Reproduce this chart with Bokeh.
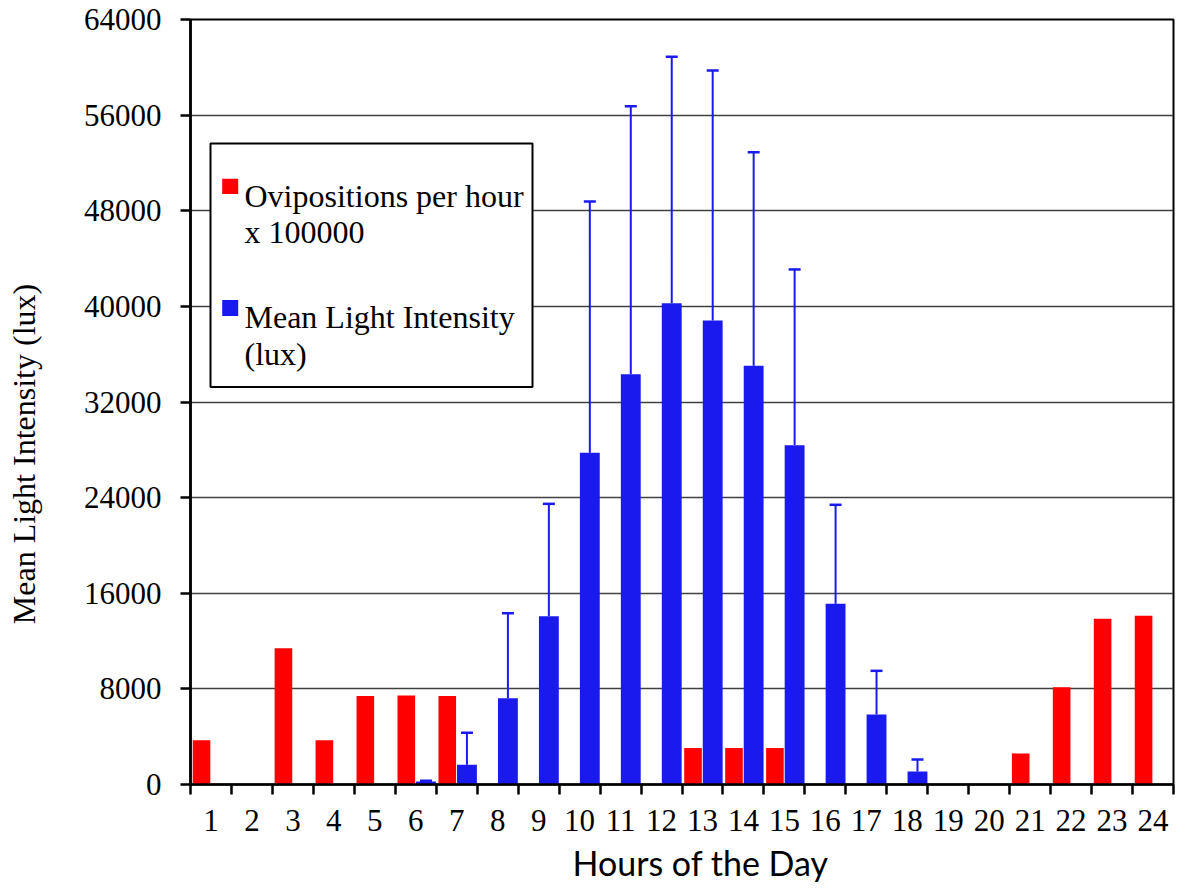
from bokeh.plotting import figure
from bokeh.models import (Range1d, FixedTicker, Whisker, TeeHead, ColumnDataSource,
                          BoxAnnotation, Label, Title)
from bokeh.transform import dodge
from bokeh.embed import file_html
from bokeh.resources import INLINE

# ---------------- data ----------------
hours = list(range(1, 25))
ovipositions_x1e5 = [3700, 0, 11400, 3700, 7400, 7450, 7400, 0, 0, 0, 0, 0,
                     3050, 3050, 3050, 0, 0, 0, 0, 0, 2600, 8140, 13860, 14110]
light_mean = [0, 0, 0, 0, 0, 250, 1650, 7220, 14080, 27750, 34330, 40270,
              38820, 35030, 28390, 15120, 5860, 1090, 0, 0, 0, 0, 0, 0]
light_sd = [0, 0, 0, 0, 0, 60, 2680, 7110, 9400, 21030, 22410, 20610,
            20910, 17860, 14700, 8280, 3650, 1000, 0, 0, 0, 0, 0, 0]
y_ticks = [0, 8000, 16000, 24000, 32000, 40000, 48000, 56000, 64000]
legend_labels = ["Ovipositions per hour", "x 100000", "Mean Light Intensity", "(lux)"]
y_title = "Mean Light Intensity (lux)"
x_title = "Hours of the Day"

RED = "#FF0000"
BLUE = "#1A1AEE"
SERIF = "Liberation Serif"

src = ColumnDataSource(dict(hour=hours, ovi=ovipositions_x1e5, light=light_mean))
idx = [i for i, v in enumerate(light_mean) if v > 0]
err_src = ColumnDataSource(dict(
    hour=[hours[i] for i in idx],
    lower=[light_mean[i] for i in idx],
    upper=[light_mean[i] + light_sd[i] for i in idx],
))

p = figure(width=1186, height=892, output_backend="svg", toolbar_location=None,
           x_range=Range1d(0.5, 24.5), y_range=Range1d(0, 64000),
           min_border_left=190, min_border_right=13, min_border_top=19, min_border_bottom=108)
p.background_fill_color = "white"
p.border_fill_color = "white"
p.outline_line_color = "black"
p.outline_line_width = 2

p.vbar(x=dodge("hour", -0.231, range=p.x_range), top="ovi", width=0.43, source=src,
       fill_color=RED, line_color=None)
p.vbar(x=dodge("hour", 0.2495, range=p.x_range), top="light", width=0.485, source=src,
       fill_color=BLUE, line_color=None)

wh = Whisker(source=err_src, base=dodge("hour", 0.2495, range=p.x_range),
             lower="lower", upper="upper", dimension="height",
             line_color=BLUE, line_width=2,
             lower_head=None,
             upper_head=TeeHead(size=12, line_color=BLUE, line_width=2.5))
p.add_layout(wh)

# axes
p.xaxis.ticker = FixedTicker(ticks=hours, minor_ticks=[h - 0.5 for h in hours] + [hours[-1] + 0.5])
p.xaxis.major_tick_out = 0
p.xaxis.major_tick_in = 0
p.xaxis.minor_tick_out = 10
p.xaxis.minor_tick_in = 0
p.xaxis.minor_tick_line_color = "black"
p.xaxis.minor_tick_line_width = 2.5
p.xaxis.major_label_standoff = 15

p.yaxis.ticker = FixedTicker(ticks=y_ticks)
p.yaxis.major_tick_out = 10
p.yaxis.major_tick_in = 0
p.yaxis.minor_tick_out = 0
p.yaxis.minor_tick_in = 0
p.yaxis.major_tick_line_width = 2.5
p.yaxis.major_label_standoff = 19

for ax in (p.xaxis[0], p.yaxis[0]):
    ax.axis_line_color = "black"
    ax.axis_line_width = 2.7
    ax.major_tick_line_color = "black"
    ax.major_label_text_font = SERIF
    ax.major_label_text_font_size = "31px"
    ax.major_label_text_color = "black"

p.xgrid.visible = False
p.ygrid.ticker = FixedTicker(ticks=y_ticks)
p.ygrid.grid_line_color = "#404040"
p.ygrid.grid_line_width = 1.5

# y axis title: trailing no-break spaces shift it toward the bottom, as in the reference
p.yaxis.axis_label = y_title + "\u00a0" * 13
p.yaxis.axis_label_text_font = SERIF
p.yaxis.axis_label_text_font_size = "32px"
p.yaxis.axis_label_text_font_style = "normal"
p.yaxis.axis_label_text_color = "black"
p.yaxis.axis_label_standoff = 39

# x axis title
p.add_layout(Title(text=x_title, align="left", offset=382,
                   text_font="Lato", text_font_size="34px", text_font_style="normal",
                   text_color="black", standoff=12), "below")

# ---- legend; positions given in reference page pixels, mapped to data space ----
X0, X1, Y0, Y1 = 190.0, 1173.0, 19.0, 784.0
def dx(px):
    return 0.5 + (px - X0) / (X1 - X0) * 24
def dy(py):
    return (Y1 - py) / (Y1 - Y0) * 64000

p.add_layout(BoxAnnotation(left=dx(210), right=dx(532), top=dy(143), bottom=dy(386.5),
                           fill_color="white", fill_alpha=1, line_color="black",
                           line_alpha=1, line_width=2))
p.add_layout(BoxAnnotation(left=dx(221.7), right=dx(237.7), top=dy(178.3), bottom=dy(193.5),
                           fill_color=RED, fill_alpha=1, line_color=None))
p.add_layout(BoxAnnotation(left=dx(221.7), right=dx(237.7), top=dy(299.5), bottom=dy(315.5),
                           fill_color=BLUE, fill_alpha=1, line_color=None))
for txt, py in zip(legend_labels, [195, 231.7, 316.7, 353.3]):
    p.add_layout(Label(x=dx(244), y=dy(py), text=txt, text_font=SERIF, text_font_size="32px",
                       text_color="black", text_baseline="alphabetic", text_align="left"))

open("out.html", "w").write(file_html(p, INLINE))
